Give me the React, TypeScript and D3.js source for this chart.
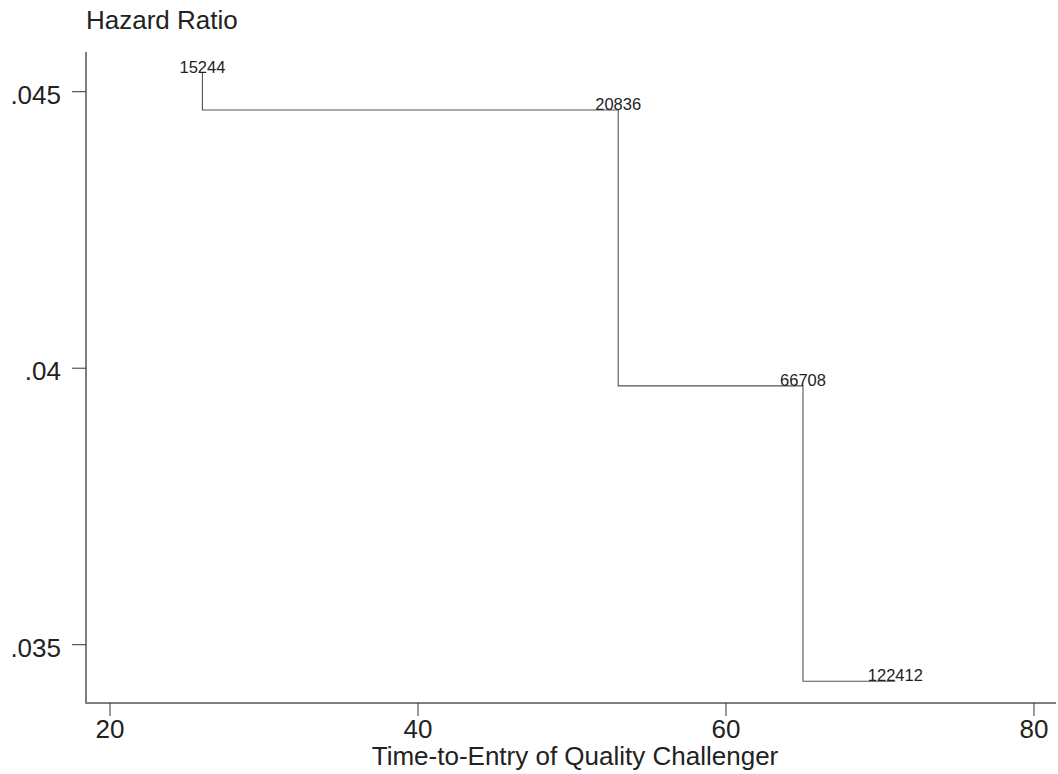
import React from 'react';
import * as d3 from 'd3';

// step points (time-to-entry, hazard ratio) and their marker labels
const times = [26, 53, 65, 71];
const hazards = [0.04534, 0.04467, 0.03968, 0.03434];
const labels = ['15244', '20836', '66708', '122412'];

const xTicks = [20, 40, 60, 80];
const yTicks = [0.035, 0.04, 0.045];
const yTickLabels = ['.035', '.04', '.045'];

const WIDTH = 1058;
const HEIGHT = 774;
const FONT = '"Liberation Sans", Arial, Helvetica, sans-serif';
const AXIS_COLOR = '#7f7f7f';
const TEXT_COLOR = '#222';
const BIG = 26;

const App = () => {
  const plot = { left: 86, right: 1056, top: 52, bottom: 703 };

  const xScale = d3.scaleLinear().domain([18.44, 81.43]).range([plot.left, plot.right]);
  const yScale = d3.scaleLinear().domain([0.033946, 0.045718]).range([plot.bottom, plot.top]);

  const points = times.map((t, i) => ({ t, h: hazards[i], label: labels[i] }));

  const stepLine = d3
    .line<{ t: number; h: number }>()
    .x((d) => xScale(d.t))
    .y((d) => yScale(d.h))
    .curve(d3.curveStepBefore);

  return (
    <svg
      width={WIDTH}
      height={HEIGHT}
      style={{ position: 'absolute', left: 0, top: 0, background: '#fff' }}
      fontFamily={FONT}
    >
      {/* y axis title */}
      <text x={86} y={29} fontSize={BIG} fill={TEXT_COLOR}>
        Hazard Ratio
      </text>

      {/* y axis */}
      <line x1={plot.left} x2={plot.left} y1={plot.top} y2={plot.bottom + 1} stroke={AXIS_COLOR} strokeWidth={2} />
      {yTicks.map((v, i) => (
        <g key={v}>
          <line x1={plot.left - 14} x2={plot.left} y1={yScale(v)} y2={yScale(v)} stroke="#333" strokeWidth={1} />
          <text x={61} y={yScale(v) + 12} fontSize={BIG} textAnchor="end" fill={TEXT_COLOR}>
            {yTickLabels[i]}
          </text>
        </g>
      ))}

      {/* x axis */}
      <line x1={plot.left - 1} x2={plot.right} y1={plot.bottom} y2={plot.bottom} stroke={AXIS_COLOR} strokeWidth={2} />
      {xTicks.map((v) => (
        <g key={v}>
          <line x1={xScale(v)} x2={xScale(v)} y1={plot.bottom} y2={plot.bottom + 13} stroke="#333" strokeWidth={1} />
          <text x={xScale(v)} y={plot.bottom + 35} fontSize={BIG} textAnchor="middle" fill={TEXT_COLOR}>
            {v}
          </text>
        </g>
      ))}
      <text x={575} y={765} fontSize={BIG} textAnchor="middle" fill={TEXT_COLOR}>
        Time-to-Entry of Quality Challenger
      </text>

      {/* hazard step line */}
      <path d={stepLine(points) || ''} fill="none" stroke="#555" strokeWidth={1.1} />

      {/* marker labels */}
      {points.map((d) => (
        <text key={d.label} x={xScale(d.t)} y={yScale(d.h)} fontSize={16.5} textAnchor="middle" fill={TEXT_COLOR}>
          {d.label}
        </text>
      ))}
    </svg>
  );
};

export default App;
